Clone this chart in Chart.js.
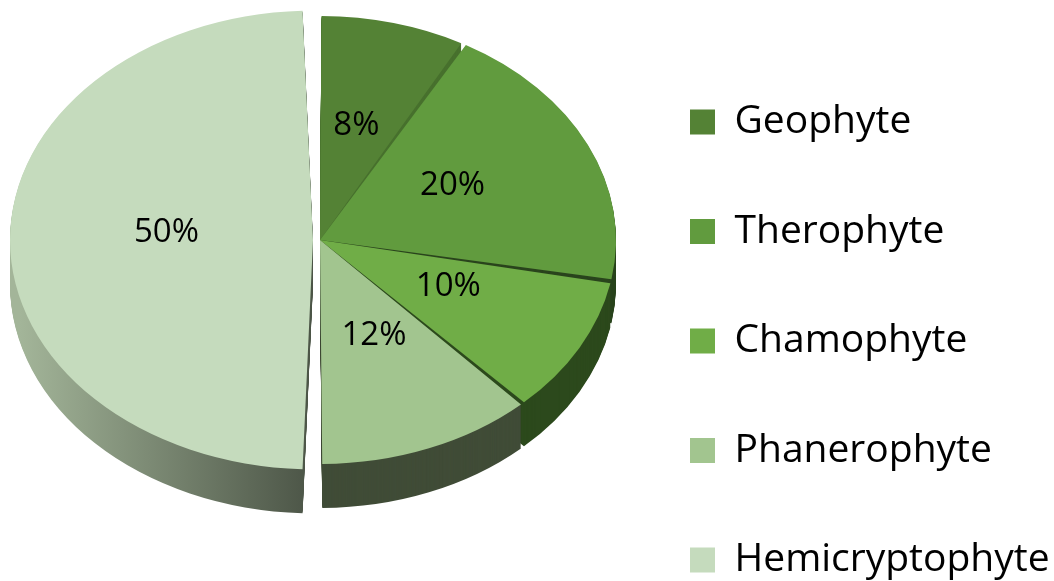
<!DOCTYPE html>
<html>
<head>
<meta charset="utf-8">
<script src="https://cdn.jsdelivr.net/npm/chart.js@4/dist/chart.umd.min.js"></script>
<style>
  html, body { margin: 0; padding: 0; background: #fff; overflow: hidden; }
  #wrap { width: 1054px; height: 581px; overflow: hidden; }
</style>
</head>
<body>
<div id="wrap"><canvas id="lifeforms" width="1054" height="700"></canvas></div>
<script>
// life form spectrum (%)
var lifeForms = ['Geophyte', 'Therophyte', 'Chamophyte', 'Phanerophyte', 'Hemicryptophyte'];
var shares = [8, 20, 10, 12, 50];

var topColors  = ['#548235', '#619b3e', '#70ad47', '#a2c58f', '#c5dbbd'];
var sideColors = ['#47702d', '#2a441d', '#2c491c', '#404c37', null]; // last one is a gradient
var explode    = [0, 0, 0, 0, 28];

// where the tilted pie sits on the page
var PIE_X = 320, PIE_Y = 240, PIE_RX = 296, PIE_RY = 224, DEPTH = 44, GAP = 6;
var LABEL_LIFT = 7;

var LEGEND_FONT = 39, LEGEND_PAD = 70.5;
var mctx = document.createElement('canvas').getContext('2d');
mctx.font = LEGEND_FONT + 'px "Open Sans"';
var widest = Math.max.apply(null, lifeForms.map(function (t) { return mctx.measureText(t).width; }));
var padRight = 309.5 - widest;

function frame(chart) {
  var a = chart.getDatasetMeta(0).data[0];
  var r = a.outerRadius + GAP / 2;
  return { cx: a.x, cy: a.y, sx: PIE_RX / r, sy: PIE_RY / r };
}

function applyFrame(ctx, m) {
  ctx.translate(PIE_X, PIE_Y);
  ctx.scale(m.sx, m.sy);
  ctx.translate(-m.cx, -m.cy);
}

var pie3d = {
  id: 'pie3d',
  beforeDatasetsDraw: function (chart) {
    var ctx = chart.ctx;
    var arcs = chart.getDatasetMeta(0).data;
    var m = frame(chart);
    var r = arcs[0].outerRadius;
    for (var d = DEPTH; d >= 1; d--) {
      ctx.save();
      ctx.translate(0, d);
      applyFrame(ctx, m);
      arcs.forEach(function (arc, i) {
        var bg = arc.options.backgroundColor;
        var side = sideColors[i];
        if (!side) {
          side = ctx.createLinearGradient(m.cx - r, 0, m.cx, 0);
          side.addColorStop(0, '#a3b599');
          side.addColorStop(1, '#4b5446');
        }
        arc.options.backgroundColor = side;
        arc.draw(ctx);
        arc.options.backgroundColor = bg;
      });
      ctx.restore();
    }
    ctx.save();
    applyFrame(ctx, m);
  },
  afterDatasetsDraw: function (chart) {
    var ctx = chart.ctx;
    ctx.restore();
    var m = frame(chart);
    var arcs = chart.getDatasetMeta(0).data;
    ctx.save();
    ctx.font = '33px "Open Sans"';
    ctx.fillStyle = '#000';
    ctx.textAlign = 'center';
    ctx.textBaseline = 'middle';
    arcs.forEach(function (arc, i) {
      var a = (arc.startAngle + arc.endAngle) / 2;
      var dist = arc.outerRadius * 0.5 + (arc.options.offset || 0) / 4;
      var x = PIE_X + Math.cos(a) * dist * m.sx;
      var y = PIE_Y + Math.sin(a) * dist * m.sy - LABEL_LIFT;
      ctx.fillText(chart.data.datasets[0].data[i] + '%', x, y);
    });
    ctx.restore();
  }
};

new Chart(document.getElementById('lifeforms').getContext('2d'), {
  type: 'pie',
  data: {
    labels: lifeForms,
    datasets: [{
      data: shares,
      backgroundColor: topColors,
      borderWidth: 0,
      offset: explode,
      spacing: GAP,
      clip: false
    }]
  },
  options: {
    responsive: false,
    animation: false,
    layout: { padding: { top: 32, right: padRight, bottom: 0, left: 0 } },
    plugins: {
      legend: {
        position: 'right',
        align: 'start',
        labels: {
          boxWidth: 25,
          boxHeight: 25,
          padding: LEGEND_PAD,
          color: '#000',
          font: { family: 'Open Sans', size: LEGEND_FONT }
        }
      },
      tooltip: { enabled: false }
    }
  },
  plugins: [pie3d]
});
</script>
</body>
</html>
